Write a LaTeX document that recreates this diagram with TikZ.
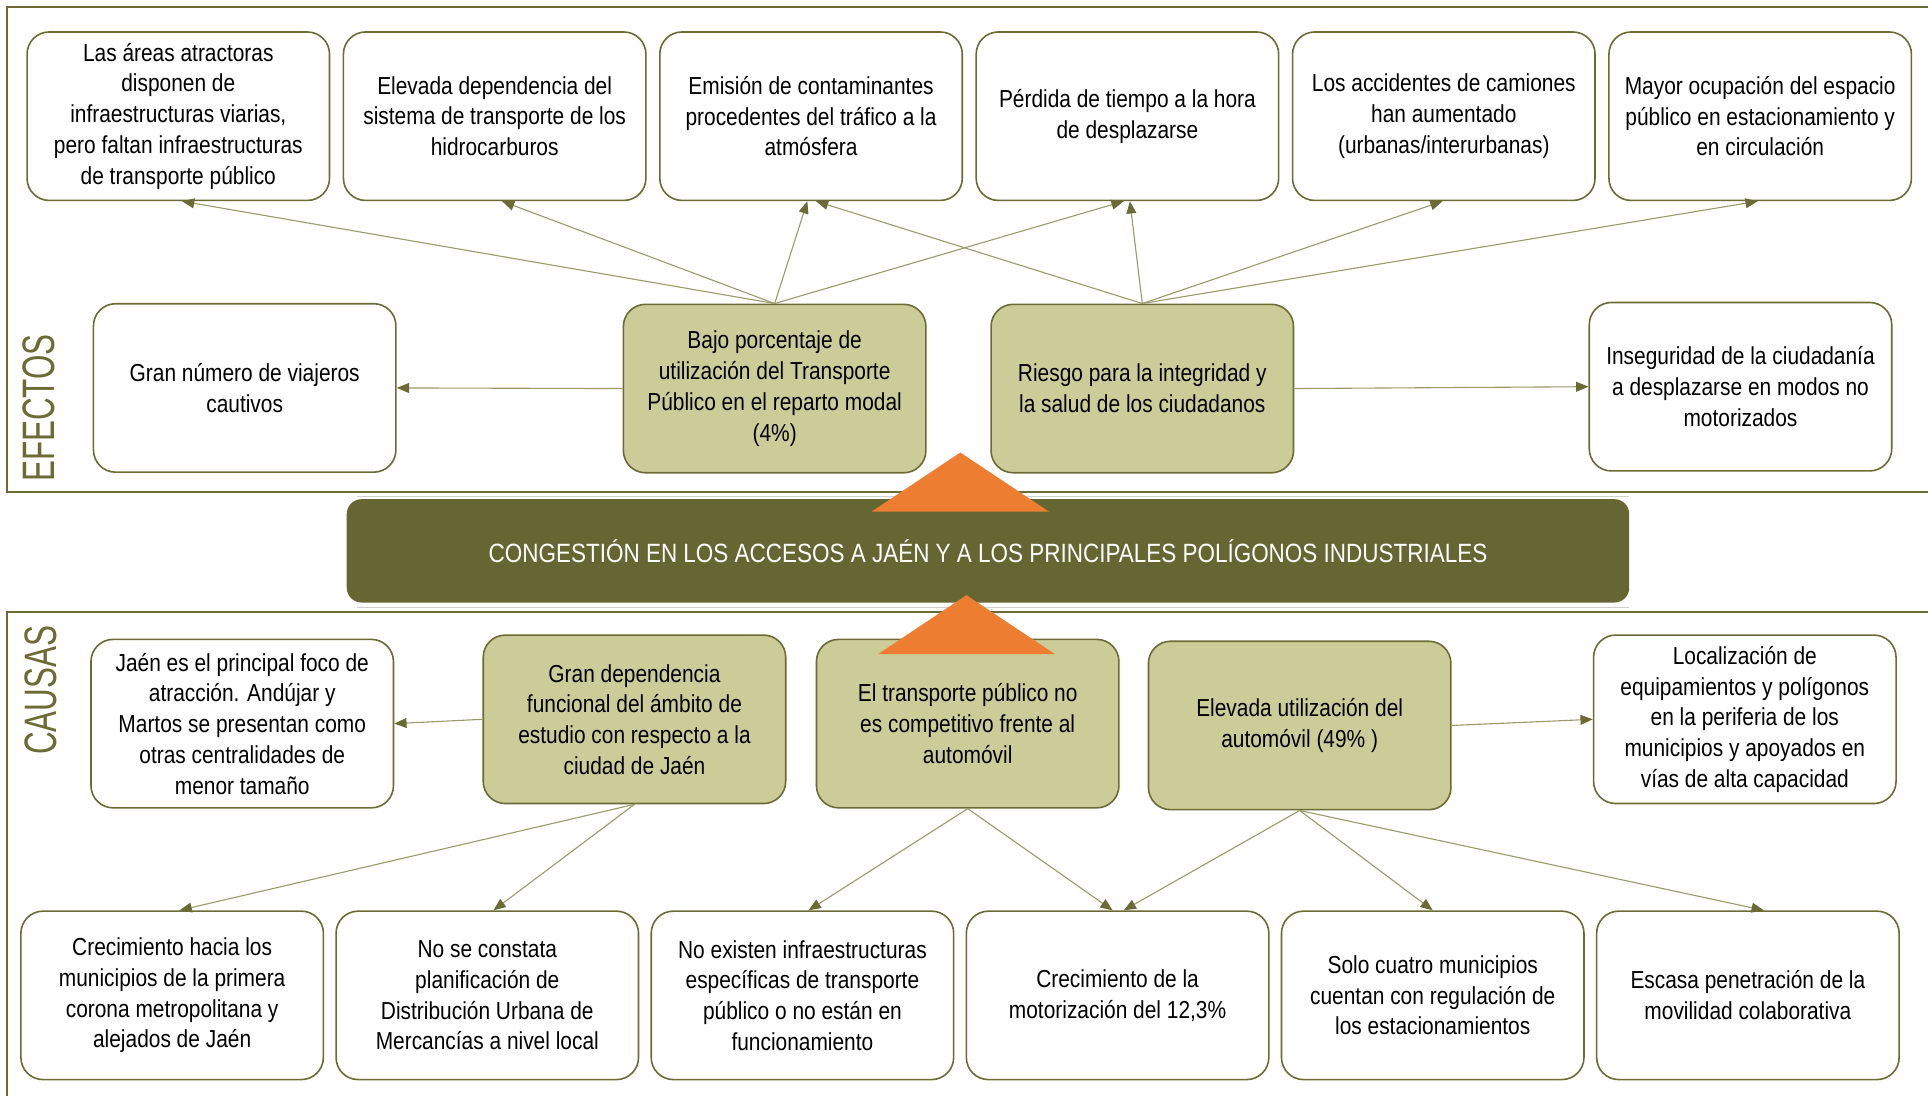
\documentclass[tikz,border=0pt]{standalone}
\usepackage{fontspec}
\setmainfont[FakeStretch=0.85]{Liberation Sans}
\newfontfamily\tagfont[FakeStretch=0.69]{Liberation Sans}
\usetikzlibrary{arrows.meta,positioning}
\definecolor{Olive}{HTML}{6B6B35}
\definecolor{OliveDark}{HTML}{666633}
\definecolor{OliveFill}{HTML}{CCCC99}
\definecolor{OliveLine}{HTML}{9A9A6A}
\definecolor{Naranja}{HTML}{ED7D31}
\definecolor{FrameGray}{HTML}{CFCFCF}

\begin{document}
\begin{tikzpicture}[x=1pt, y=-1pt, node distance=10pt,
  box/.style={rounded corners=18pt, draw=Olive, fill=white, line width=1.3pt,
              minimum width=246pt, minimum height=137pt, align=center, inner sep=4pt,
              font=\fontsize{20}{25}\selectfont},
  hl/.style={box, fill=OliveFill},
  banner/.style={rounded corners=12pt, fill=OliveDark, minimum width=1043pt, minimum height=84pt,
                 text=white, font=\fontsize{21.5}{25}\selectfont},
  arr/.style={-{Triangle[length=10pt, width=8pt, color=Olive]}, line width=0.9pt, draw=OliveLine},
  frame/.style={draw=Olive, line width=1.6pt},
  tag/.style={rotate=90, anchor=west, inner sep=0pt, text=Olive,
              font=\tagfont\fontsize{37}{37}\selectfont}]
  \useasboundingbox (0,0) rectangle (1568,891);
  \clip (0,0) rectangle (1568,891);

  \draw[frame] (1600,6) -- (6,6) -- (6,400) -- (1600,400);
  \draw[frame] (1600,498) -- (6,498) -- (6,900);
  \draw[FrameGray, line width=0.8pt] (290,404) -- (1325,404);
  \draw[FrameGray, line width=0.8pt] (290,494) -- (1325,494);
  \node[tag] (efectos) at (31.5,392) {EFECTOS};
  \node[tag] (causas) at (33,614) {CAUSAS};

  \node[box] (atrac) at (145,94.5) {Las áreas atractoras\\ disponen de\\ infraestructuras viarias,\\ pero faltan infraestructuras\\ de transporte público};
  \node[box, right=of atrac] (hidro) {Elevada dependencia del\\ sistema de transporte de los\\ hidrocarburos};
  \node[box, right=of hidro] (emision) {Emisión de contaminantes\\ procedentes del tráfico a la\\ atmósfera};
  \node[box, right=of emision] (perdida) {Pérdida de tiempo a la hora\\ de desplazarse};
  \node[box, right=of perdida] (accid) {Los accidentes de camiones\\ han aumentado\\ (urbanas/interurbanas)};
  \node[box, right=of accid] (ocupa) {Mayor ocupación del espacio\\ público en estacionamiento y\\ en circulación};

  \node[box] (cautivos) at (199,315.5) {Gran número de viajeros\\ cautivos};
  \node[hl] (bajotp) at (630,316) {Bajo porcentaje de\\ utilización del Transporte\\ Público en el reparto modal\\ (4\%)};
  \node[hl] (riesgo) at (929,316) {Riesgo para la integridad y\\ la salud de los ciudadanos};
  \node[box] (insegur) at (1415.5,314.5) {Inseguridad de la ciudadanía\\ a desplazarse en modos no\\ motorizados};

  \node[banner] (congest) at (803.5,448) {CONGESTIÓN EN LOS ACCESOS A JAÉN Y A LOS PRINCIPALES POLÍGONOS INDUSTRIALES};

  \node[box] (focojaen) at (197,588.5) {Jaén es el principal foco de\\ atracción. Andújar y\\ Martos se presentan como\\ otras centralidades de\\ menor tamaño};
  \node[hl] (depend) at (516,585) {Gran dependencia\\ funcional del ámbito de\\ estudio con respecto a la\\ ciudad de Jaén};
  \node[hl] (nocomp) at (787,588.5) {El transporte público no\\ es competitivo frente al\\ automóvil};
  \node[hl] (autouso) at (1057,590) {Elevada utilización del\\ automóvil (49\% )};
  \node[box] (localiz) at (1419,585) {Localización de\\ equipamientos y polígonos\\ en la periferia de los\\ municipios y apoyados en\\ vías de alta capacidad};

  \node[box] (crecim) at (140,809.5) {Crecimiento hacia los\\ municipios de la primera\\ corona metropolitana y\\ alejados de Jaén};
  \node[box, right=9pt of crecim] (nodum) {No se constata\\ planificación de\\ Distribución Urbana de\\ Mercancías a nivel local};
  \node[box, right=9pt of nodum] (noinfra) {No existen infraestructuras\\ específicas de transporte\\ público o no están en\\ funcionamiento};
  \node[box, right=9pt of noinfra] (motoriz) {Crecimiento de la\\ motorización del 12,3\%};
  \node[box, right=9pt of motoriz] (estacion) {Solo cuatro municipios\\ cuentan con regulación de\\ los estacionamientos};
  \node[box, right=9pt of estacion] (colab) {Escasa penetración de la\\ movilidad colaborativa};

  \draw[arr] (bajotp.north) -- ([xshift=3pt]atrac.south);
  \draw[arr] (bajotp.north) -- ([xshift=6pt]hidro.south);
  \draw[arr] (bajotp.north) -- ([xshift=-3pt]emision.south);
  \draw[arr] (bajotp.north) -- ([xshift=-3pt]perdida.south);
  \draw[arr] (riesgo.north) -- ([xshift=4pt]emision.south);
  \draw[arr] (riesgo.north) -- ([xshift=2pt]perdida.south);
  \draw[arr] (riesgo.north) -- ([xshift=-1pt]accid.south);
  \draw[arr] (riesgo.north) -- ([xshift=-2pt]ocupa.south);
  \draw[arr] (bajotp.west) -- (cautivos.east);
  \draw[arr] (riesgo.east) -- (insegur.west);

  \draw[arr] (depend.west) -- (focojaen.east);
  \draw[arr] (autouso.east) -- (localiz.west);
  \draw[arr] (depend.south) -- ([xshift=6pt]crecim.north);
  \draw[arr] (depend.south) -- ([xshift=5pt]nodum.north);
  \draw[arr] (nocomp.south) -- ([xshift=5pt]noinfra.north);
  \draw[arr] (nocomp.south) -- ([xshift=-4pt]motoriz.north);
  \draw[arr] (autouso.south) -- ([xshift=5pt]motoriz.north);
  \draw[arr] (autouso.south) -- (estacion.north);
  \draw[arr] (autouso.south) -- ([xshift=13pt]colab.north);

  \fill[Naranja] (781,368) -- (853,416) -- (709,416) -- cycle;
  \fill[Naranja] (786,484) -- (858,532) -- (714,532) -- cycle;
\end{tikzpicture}
\end{document}
